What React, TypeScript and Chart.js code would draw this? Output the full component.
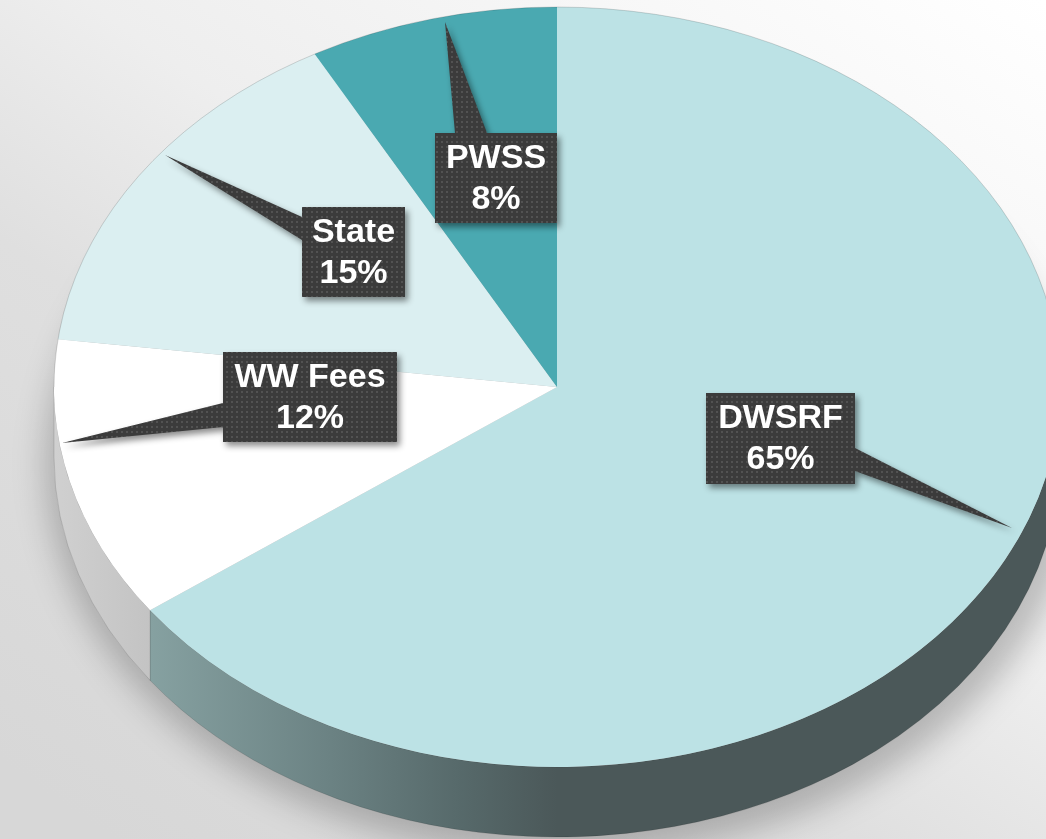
import React, { useEffect, useRef } from "react";
import { Chart, registerables } from "chart.js";

Chart.register(...registerables);

// ---- data ----
const categories = ["DWSRF", "WW Fees", "State", "PWSS"];
const shares = [65, 12, 15, 8];
const faceColors = ["#bce2e5", "#ffffff", "#dbeff1", "#4aa9b1"];

// ---- annotation layout (callout boxes & pointer tips) ----
const CALLOUTS = [
  { box: [706, 393, 149, 91], base: [[855, 448], [855, 471]], tip: [1012, 528] },
  { box: [223, 352, 174, 90], base: [[223, 403], [223, 427]], tip: [62, 443] },
  { box: [302, 207, 103, 90], base: [[302, 217], [302, 240]], tip: [165, 155] },
  { box: [435, 133, 122, 90], base: [[455, 133], [487, 133]], tip: [445, 22] },
];

const STRETCH_X = 503 / 380; // horizontal stretch of the round pie into an ellipse
const DEPTH = 70; // thickness of the 3D rim

function makePattern(ctx: CanvasRenderingContext2D) {
  const c = document.createElement("canvas");
  c.width = 5;
  c.height = 5;
  const p = c.getContext("2d")!;
  p.fillStyle = "#3b3b3b";
  p.fillRect(0, 0, 5, 5);
  p.fillStyle = "#525252";
  p.fillRect(1, 1, 2, 2);
  return ctx.createPattern(c, "repeat")!;
}

const pie3d = {
  id: "pie3d",
  beforeDraw(chart: any) {
    const ctx: CanvasRenderingContext2D = chart.ctx;
    const W = chart.width;
    const H = chart.height;
    const meta = chart.getDatasetMeta(0);
    if (!meta.data.length) return;
    const a0 = meta.data[0].getProps(["x", "y", "outerRadius"], true);
    const cx = a0.x;
    const cy = a0.y;
    const Ry = a0.outerRadius;
    const Rx = Ry * STRETCH_X;

    ctx.save();
    // background
    const bg = ctx.createLinearGradient(900, -100, 200, 900);
    bg.addColorStop(0, "#ffffff");
    bg.addColorStop(0.45, "#eeeeee");
    bg.addColorStop(0.65, "#dfdfdf");
    bg.addColorStop(1, "#d7d7d7");
    ctx.fillStyle = bg;
    ctx.fillRect(0, 0, W, H);

    // soft shadow under the pie
    ctx.save();
    (ctx as any).filter = "blur(16px)";
    ctx.fillStyle = "rgba(0,0,0,0.22)";
    ctx.beginPath();
    ctx.ellipse(cx + 6, cy + DEPTH + 8, Rx + 14, Ry + 12, 0, 0, Math.PI * 2);
    ctx.fill();
    (ctx as any).filter = "none";
    ctx.restore();

    // rim (side walls) per slice
    const rimDW = ctx.createLinearGradient(cx - Rx, 0, cx, 0);
    rimDW.addColorStop(0, "#90acac");
    rimDW.addColorStop(0.19, "#86a1a1");
    rimDW.addColorStop(0.55, "#6b8283");
    rimDW.addColorStop(0.8, "#576a6b");
    rimDW.addColorStop(1, "#4b5859");
    const rimGray = ctx.createLinearGradient(cx - Rx, 0, cx - Rx + 120, 0);
    rimGray.addColorStop(0, "#d0d0d0");
    rimGray.addColorStop(1, "#c0c0c0");
    const rimFills = [rimDW, rimGray, "#c9dcdd", "#3d8a90"];

    meta.data.forEach((arc: any, i: number) => {
      const p = arc.getProps(["startAngle", "endAngle"], true);
      const s = Math.max(p.startAngle, 0);
      const e = Math.min(p.endAngle, Math.PI);
      if (e <= s) return;
      ctx.beginPath();
      ctx.ellipse(cx, cy, Rx, Ry, 0, s, e);
      ctx.ellipse(cx, cy + DEPTH, Rx, Ry, 0, e, s, true);
      ctx.closePath();
      ctx.fillStyle = rimFills[i % rimFills.length];
      ctx.fill();
      ctx.strokeStyle = "rgba(0,0,0,0.12)";
      ctx.lineWidth = 1;
      ctx.stroke();
    });
    ctx.restore();
  },
  beforeDatasetsDraw(chart: any) {
    const ctx: CanvasRenderingContext2D = chart.ctx;
    const meta = chart.getDatasetMeta(0);
    if (!meta.data.length) return;
    const a0 = meta.data[0].getProps(["x"], true);
    ctx.save();
    ctx.translate(a0.x, 0);
    ctx.scale(STRETCH_X, 1);
    ctx.translate(-a0.x, 0);
  },
  afterDatasetsDraw(chart: any) {
    const ctx: CanvasRenderingContext2D = chart.ctx;
    ctx.restore();
    const meta = chart.getDatasetMeta(0);
    if (!meta.data.length) return;
    const a0 = meta.data[0].getProps(["x", "y", "outerRadius"], true);
    const Ry = a0.outerRadius;
    const Rx = Ry * STRETCH_X;

    // faint outline of the top face
    ctx.save();
    ctx.beginPath();
    ctx.ellipse(a0.x, a0.y, Rx, Ry, 0, Math.PI, Math.PI * 2);
    ctx.strokeStyle = "rgba(0,0,0,0.15)";
    ctx.lineWidth = 1;
    ctx.stroke();
    ctx.restore();

    // callout labels
    const data: number[] = chart.data.datasets[0].data;
    const labels: string[] = chart.data.labels;
    const total = data.reduce((a, b) => a + b, 0);
    const pattern = makePattern(ctx);
    CALLOUTS.forEach((c, i) => {
      if (i >= labels.length) return;
      const [bx, by, bw, bh] = c.box;
      ctx.save();
      ctx.shadowColor = "rgba(0,0,0,0.45)";
      ctx.shadowBlur = 6;
      ctx.shadowOffsetX = 3;
      ctx.shadowOffsetY = 4;
      ctx.fillStyle = pattern;
      ctx.beginPath();
      ctx.rect(bx, by, bw, bh);
      ctx.moveTo(c.base[0][0], c.base[0][1]);
      ctx.lineTo(c.tip[0], c.tip[1]);
      ctx.lineTo(c.base[1][0], c.base[1][1]);
      ctx.closePath();
      ctx.fill();
      ctx.restore();

      ctx.save();
      ctx.fillStyle = "#ffffff";
      ctx.font = "bold 34px 'Liberation Sans', Arial, sans-serif";
      ctx.textAlign = "center";
      ctx.textBaseline = "middle";
      const tx = bx + bw / 2;
      const ty = by + bh / 2 + 1;
      ctx.fillText(labels[i], tx, ty - 20.5);
      ctx.fillText(`${Math.round((data[i] / total) * 100)}%`, tx, ty + 20.5);
      ctx.restore();
    });
  },
};

export default function App() {
  const ref = useRef<HTMLCanvasElement | null>(null);
  useEffect(() => {
    if (!ref.current) return;
    const chart = new Chart(ref.current, {
      type: "pie",
      data: {
        labels: categories,
        datasets: [
          {
            data: shares,
            backgroundColor: faceColors,
            borderWidth: 0,
            hoverOffset: 0,
          },
        ],
      },
      options: {
        responsive: false,
        maintainAspectRatio: false,
        animation: false,
        devicePixelRatio: 1,
        events: [],
        layout: { padding: { top: 7, bottom: 72, left: 177, right: 109 } },
        plugins: {
          legend: { display: false },
          tooltip: { enabled: false },
          title: { display: false },
        },
      },
      plugins: [pie3d],
    });
    return () => chart.destroy();
  }, []);
  return (
    <div style={{ position: "fixed", left: 0, top: 0, width: 1046, height: 839, overflow: "hidden" }}>
      <canvas ref={ref} width={1046} height={839} style={{ display: "block", width: 1046, height: 839 }} />
    </div>
  );
}
